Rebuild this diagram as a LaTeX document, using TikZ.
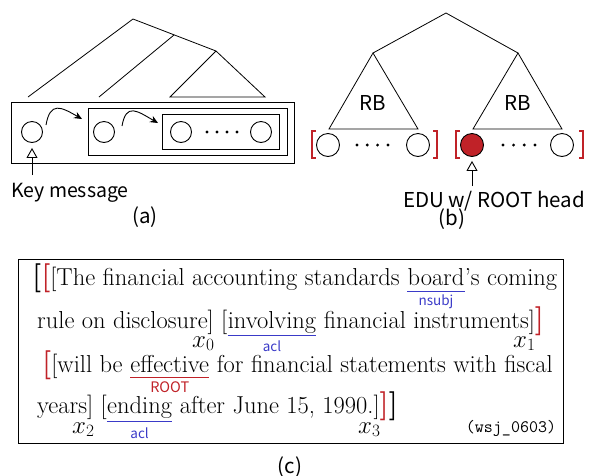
\documentclass[tikz,border=0pt]{standalone}
\usepackage{fontspec}
\newfontfamily\gothic{Noto Sans CJK JP}
\usetikzlibrary{arrows.meta,positioning}
\definecolor{rootred}{RGB}{192,34,40}
\definecolor{depblue}{RGB}{58,58,200}
\tikzstyle{edu} = [circle, draw, minimum size=21pt, inner sep=0pt, line width=0.9pt]
\tikzstyle{eduB} = [edu, minimum size=23pt]
\tikzstyle{box} = [draw, line width=0.9pt]
\tikzstyle{tree} = [line width=0.8pt, line join=miter]
\tikzstyle{curl} = [line width=0.9pt, looseness=1.7, -{Stealth[length=8pt,width=7pt]}]
\tikzstyle{pointer} = [line width=0.9pt, -{Triangle[open,length=10pt,width=11pt]}]
\tikzstyle{lbl} = [font=\gothic\fontsize{20.5}{24}\selectfont, inner sep=0pt]
\tikzstyle{dep} = [font=\gothic\fontsize{13.5}{16}\selectfont, inner sep=0pt]
\tikzstyle{txt} = [font=\fontsize{24.5}{29}\selectfont, inner sep=0pt, anchor=base west]
\tikzstyle{var} = [font=\fontsize{24.5}{29}\selectfont, inner sep=0pt, anchor=base west]
\tikzstyle{bra} = [rootred, line width=1.3pt]
\tikzstyle{uline} = [line width=1pt]
\newcommand{\bigbr}[1]{{\fontsize{29}{29}\selectfont\bfseries #1}}
\newcommand{\rbl}{\textcolor{rootred}{\bigbr[}}
\newcommand{\rbr}{\textcolor{rootred}{\bigbr]}}

\begin{document}
\begin{tikzpicture}[x=1pt, y=-1pt]
        \useasboundingbox (0,0) rectangle (590,475);

        % (a) nested right-branching spans
        \draw[tree] (28,97) -- (133,19) -- (216,51) -- (265,97) -- (170,97) -- (216,51);
        \draw[tree] (99,97) -- (174,35);
        \draw[box] (11,102) rectangle (294,163);
        \draw[box] (88,108) rectangle (287,155);
        \draw[box] (162,114) rectangle (279,149);
        \node (a1) [edu] at (32,132) {};
        \node (a2) [edu] at (104,132) {};
        \node (a3) [edu] at (181,132) {};
        \node (a4) [edu] at (261,132) {};
        \foreach \x in {207,217,227,237} \fill (\x,132) circle (1.6pt);
        \coordinate (s1) at (46,125);
        \coordinate (t1) at (82,119);
        \coordinate (s2) at (122,126);
        \coordinate (t2) at (158,123);
        \draw[curl] (s1) to[out=80,in=150] (t1);
        \draw[curl] (s2) to[out=80,in=150] (t2);
        \node (km) [lbl, anchor=base, font=\gothic\fontsize{19.5}{24}\selectfont] at (70,197) {Key message};
        \coordinate (kmtop) at (32,175);
        \draw[pointer] (kmtop) -- ([yshift=-5pt]a1.south);
        \node (capa) [lbl] at (145,217) {(a)};

        % (b) two RB subtrees
        \draw[tree] (373,53) -- (446,13) -- (518,53);
        \draw[tree] (373,53) -- (329,129) -- (418,129) -- cycle;
        \draw[tree] (518,53) -- (473,129) -- (562,129) -- cycle;
        \node (rb1) [lbl] at (373,103) {RB};
        \node (rb2) [lbl] at (518,103) {RB};
        \node (b1) [eduB] at (328,145) {};
        \node (b2) [eduB] at (418,145) {};
        \node (b3) [eduB, fill=rootred] at (472,145) {};
        \node (b4) [eduB] at (562,145) {};
        \foreach \x in {357,367.3,377.6,388} \fill (\x,145) circle (1.6pt);
        \foreach \x in {503,513.6,524.3,535} \fill (\x,145) circle (1.6pt);
        \draw[bra] (316,131) -- (312,131) -- (312,158) -- (316,158);
        \draw[bra] (433,131) -- (437,131) -- (437,158) -- (433,158);
        \draw[bra] (460,131) -- (456,131) -- (456,158) -- (460,158);
        \draw[bra] (579,131) -- (583,131) -- (583,158) -- (579,158);
        \node (root) [lbl, anchor=base] at (494,207) {EDU w/ ROOT head};
        \coordinate (roottop) at (472,186);
        \draw[pointer] (roottop) -- ([yshift=-4pt]b3.south);
        \node (capb) [lbl] at (452,219) {(b)};

        % (c) example text
        \draw[box] (18,259) rectangle (563,443);
        \node (l1a) [txt] at (32,285) {\bigbr[\rbl[The financial accounting standards\ \null};
        \node (board) [txt] at (l1a.base east) {board};
        \node (l1b) [txt] at (board.base east) {'s coming};
        \node (l2a) [txt] at (37,328) {rule on disclosure] [};
        \node (inv) [txt] at (l2a.base east) {involving};
        \node (l2b) [txt] at (inv.base east) {\ financial instruments]\rbr};
        \node (l3a) [txt] at (42,372) {\rbl[will be\ \null};
        \node (eff) [txt] at (l3a.base east) {effective};
        \node (l3b) [txt] at (eff.base east) {\ for financial statements with fiscal};
        \node (l4a) [txt] at (37,413) {years] [};
        \node (end) [txt] at (l4a.base east) {ending};
        \node (l4b) [txt] at (end.base east) {\ after June 15, 1990.]\rbr\bigbr]};

        \draw[uline, depblue] ([yshift=-6pt]board.base west) -- ([yshift=-6pt]board.base east);
        \draw[uline, depblue] ([yshift=-7pt]inv.base west) -- ([yshift=-7pt]inv.base east);
        \draw[uline, rootred] ([yshift=-5pt]eff.base west) -- ([yshift=-5pt]eff.base east);
        \draw[uline, depblue] ([yshift=-8pt]end.base west) -- ([yshift=-8pt]end.base east);
        \node (nsubj) [dep, depblue] at ([yshift=-17pt]board.base) {nsubj};
        \node (acl1) [dep, depblue] at ([yshift=-18pt]inv.base) {acl};
        \node (rootl) [dep, rootred, font=\gothic\fontsize{14.5}{16}\selectfont] at ([yshift=-15pt]eff.base) {ROOT};
        \node (acl2) [dep, depblue] at ([yshift=-20pt]end.base) {acl};

        \node (x0) [var] at (192,347) {$x_0$};
        \node (x1) [var] at (513,347) {$x_1$};
        \node (x2) [var] at (72,433) {$x_2$};
        \node (x3) [var] at (358,433) {$x_3$};
        \node (wsj) [font=\fontsize{17.5}{20}\selectfont] at (511,428) {\texttt{(wsj\_0603)}};
        \node (capc) [lbl] at (290,467) {(c)};
\end{tikzpicture}
\end{document}
